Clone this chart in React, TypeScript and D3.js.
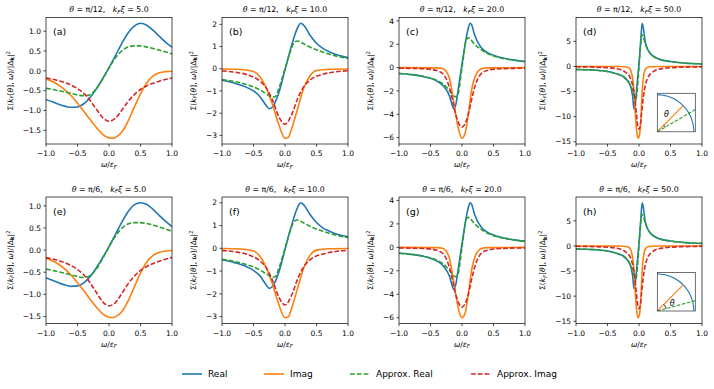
import React from "react";
import * as d3 from "d3";

type Pt = [number, number];

// ---- data: [omega/eF, Sigma/|Delta|^2] ----
// top row: theta = pi/12
const realA: Pt[] = [[-1, -0.73], [-0.9, -0.78], [-0.8, -0.84], [-0.7, -0.89], [-0.6, -0.92], [-0.5, -0.91], [-0.4, -0.83], [-0.3, -0.67], [-0.2, -0.45], [-0.1, -0.2], [0, 0.08], [0.1, 0.38], [0.2, 0.68], [0.3, 0.95], [0.4, 1.13], [0.5, 1.2], [0.6, 1.15], [0.7, 1.02], [0.8, 0.87], [0.9, 0.72], [1, 0.6]];
const imagA: Pt[] = [[-1, -0.2], [-0.9, -0.27], [-0.8, -0.36], [-0.7, -0.48], [-0.6, -0.63], [-0.5, -0.82], [-0.4, -1.02], [-0.3, -1.23], [-0.2, -1.43], [-0.1, -1.6], [0, -1.69], [0.05, -1.7], [0.1, -1.68], [0.2, -1.55], [0.3, -1.28], [0.4, -0.92], [0.5, -0.58], [0.6, -0.3], [0.7, -0.13], [0.8, -0.05], [0.9, -0.02], [1, -0.01]];
const apprRealA: Pt[] = [[-1, -0.44], [-0.8, -0.5], [-0.6, -0.57], [-0.5, -0.61], [-0.4, -0.63], [-0.3, -0.6], [-0.2, -0.45], [-0.1, -0.2], [0, 0.07], [0.1, 0.32], [0.2, 0.5], [0.3, 0.6], [0.4, 0.63], [0.5, 0.63], [0.6, 0.6], [0.8, 0.52], [1, 0.43]];
const apprImagA: Pt[] = [[-1, -0.18], [-0.8, -0.25], [-0.6, -0.36], [-0.5, -0.45], [-0.4, -0.57], [-0.3, -0.75], [-0.2, -0.97], [-0.1, -1.18], [0, -1.27], [0.1, -1.2], [0.2, -1.0], [0.3, -0.78], [0.4, -0.6], [0.5, -0.47], [0.6, -0.38], [0.8, -0.26], [1, -0.18]];

const realB: Pt[] = [[-1, -0.52], [-0.8, -0.65], [-0.6, -0.85], [-0.5, -1.0], [-0.4, -1.25], [-0.3, -1.65], [-0.25, -1.8], [-0.2, -1.72], [-0.1, -1.1], [0, -0.05], [0.1, 1.0], [0.2, 1.85], [0.25, 2.05], [0.3, 1.95], [0.4, 1.5], [0.5, 1.15], [0.6, 0.92], [0.7, 0.77], [0.8, 0.65], [0.9, 0.57], [1, 0.5]];
const imagB: Pt[] = [[-1, -0.01], [-0.7, -0.03], [-0.5, -0.12], [-0.4, -0.35], [-0.3, -0.85], [-0.2, -1.6], [-0.1, -2.5], [0, -3.13], [0.05, -3.1], [0.1, -2.75], [0.2, -1.8], [0.3, -0.85], [0.4, -0.3], [0.5, -0.08], [0.7, -0.02], [1, -0.01]];
const apprRealB: Pt[] = [[-1, -0.48], [-0.8, -0.58], [-0.6, -0.72], [-0.4, -0.95], [-0.3, -1.12], [-0.2, -1.28], [-0.15, -1.25], [-0.1, -0.9], [0, 0], [0.1, 0.9], [0.15, 1.2], [0.2, 1.25], [0.3, 1.12], [0.4, 0.97], [0.6, 0.75], [0.8, 0.58], [1, 0.47]];
const apprImagB: Pt[] = [[-1, -0.1], [-0.8, -0.15], [-0.6, -0.27], [-0.4, -0.55], [-0.3, -0.85], [-0.2, -1.4], [-0.1, -2.15], [0, -2.5], [0.1, -2.1], [0.2, -1.35], [0.3, -0.8], [0.4, -0.5], [0.6, -0.25], [0.8, -0.14], [1, -0.09]];

const realC: Pt[] = [[-1, -0.5], [-0.8, -0.6], [-0.6, -0.78], [-0.5, -0.92], [-0.4, -1.15], [-0.3, -1.55], [-0.2, -2.4], [-0.15, -3.3], [-0.13, -3.55], [-0.1, -3.2], [-0.05, -1.5], [0, 0.3], [0.05, 2.0], [0.1, 3.4], [0.13, 3.8], [0.15, 3.7], [0.2, 2.8], [0.3, 1.75], [0.4, 1.3], [0.5, 1.05], [0.6, 0.88], [0.8, 0.66], [1, 0.52]];
const imagC: Pt[] = [[-1, 0], [-0.4, -0.02], [-0.3, -0.1], [-0.2, -0.9], [-0.16, -2.0], [-0.1, -4.0], [-0.05, -5.4], [0, -6.05], [0.05, -5.6], [0.1, -4.0], [0.15, -2.0], [0.2, -0.9], [0.3, -0.12], [0.4, -0.02], [1, 0]];
const apprRealC: Pt[] = [[-1, -0.5], [-0.8, -0.6], [-0.6, -0.77], [-0.4, -1.1], [-0.3, -1.4], [-0.2, -1.95], [-0.1, -2.5], [-0.07, -2.4], [0, 0], [0.07, 2.4], [0.1, 2.55], [0.2, 2.0], [0.3, 1.55], [0.4, 1.22], [0.6, 0.85], [0.8, 0.65], [1, 0.52]];
const apprImagC: Pt[] = [[-1, -0.05], [-0.6, -0.1], [-0.4, -0.25], [-0.3, -0.55], [-0.2, -1.7], [-0.15, -2.8], [-0.1, -4.0], [-0.05, -4.8], [0, -5.1], [0.05, -4.8], [0.1, -4.0], [0.15, -2.8], [0.2, -1.7], [0.3, -0.55], [0.4, -0.25], [0.6, -0.1], [1, -0.05]];

const realD: Pt[] = [[-1, -0.6], [-0.6, -0.85], [-0.5, -1.0], [-0.4, -1.3], [-0.3, -1.7], [-0.25, -2.0], [-0.2, -2.6], [-0.15, -3.4], [-0.1, -6.0], [-0.08, -8.5], [-0.06, -7.5], [-0.03, -3.5], [0, 0.5], [0.03, 5.5], [0.05, 8.6], [0.07, 7.6], [0.1, 4.8], [0.15, 3.1], [0.2, 2.3], [0.3, 1.55], [0.5, 0.98], [0.7, 0.7], [1, 0.5]];
const imagD: Pt[] = [[-1, 0], [-0.3, -0.02], [-0.2, -0.1], [-0.15, -0.4], [-0.1, -2.5], [-0.08, -5.0], [-0.06, -9.0], [-0.04, -12.5], [-0.015, -14.3], [0.01, -13.5], [0.03, -10.5], [0.05, -5.0], [0.07, -2.2], [0.1, -0.6], [0.15, -0.1], [0.3, -0.01], [1, 0]];
const apprRealD: Pt[] = [[-1, -0.6], [-0.6, -0.85], [-0.4, -1.3], [-0.3, -1.7], [-0.2, -2.5], [-0.1, -4.8], [-0.05, -6.5], [-0.03, -5.0], [0, 0], [0.03, 5.0], [0.05, 6.3], [0.1, 4.6], [0.15, 3.1], [0.2, 2.3], [0.3, 1.55], [0.5, 0.98], [0.7, 0.7], [1, 0.5]];
const apprImagD: Pt[] = [[-1, -0.07], [-0.5, -0.25], [-0.3, -0.6], [-0.2, -1.3], [-0.15, -2.0], [-0.1, -3.8], [-0.07, -6.0], [-0.04, -9.5], [-0.02, -11.8], [0, -12.5], [0.02, -11.8], [0.04, -9.5], [0.07, -6.0], [0.1, -3.8], [0.15, -2.0], [0.2, -1.3], [0.3, -0.6], [0.5, -0.25], [1, -0.07]];

// bottom row: theta = pi/6
const realE: Pt[] = [[-1, -0.63], [-0.9, -0.68], [-0.8, -0.74], [-0.7, -0.79], [-0.6, -0.82], [-0.5, -0.81], [-0.4, -0.74], [-0.3, -0.6], [-0.2, -0.4], [-0.1, -0.17], [0, 0.08], [0.1, 0.35], [0.2, 0.62], [0.3, 0.86], [0.4, 1.02], [0.5, 1.07], [0.6, 1.03], [0.7, 0.92], [0.8, 0.78], [0.9, 0.65], [1, 0.53]];
const imagE: Pt[] = [[-1, -0.18], [-0.9, -0.24], [-0.8, -0.32], [-0.7, -0.43], [-0.6, -0.57], [-0.5, -0.74], [-0.4, -0.92], [-0.3, -1.11], [-0.2, -1.29], [-0.1, -1.44], [0, -1.52], [0.05, -1.53], [0.1, -1.51], [0.2, -1.4], [0.3, -1.16], [0.4, -0.84], [0.5, -0.52], [0.6, -0.27], [0.7, -0.12], [0.8, -0.05], [0.9, -0.02], [1, -0.01]];
const apprRealE: Pt[] = [[-1, -0.43], [-0.8, -0.49], [-0.6, -0.56], [-0.5, -0.6], [-0.4, -0.62], [-0.3, -0.58], [-0.2, -0.43], [-0.1, -0.19], [0, 0.07], [0.1, 0.31], [0.2, 0.49], [0.3, 0.59], [0.4, 0.62], [0.5, 0.62], [0.6, 0.6], [0.8, 0.52], [1, 0.43]];
const apprImagE: Pt[] = [[-1, -0.17], [-0.8, -0.24], [-0.6, -0.35], [-0.5, -0.44], [-0.4, -0.56], [-0.3, -0.74], [-0.2, -0.96], [-0.1, -1.17], [0, -1.26], [0.1, -1.19], [0.2, -0.99], [0.3, -0.77], [0.4, -0.59], [0.5, -0.46], [0.6, -0.37], [0.8, -0.25], [1, -0.17]];

const realF: Pt[] = [[-1, -0.5], [-0.8, -0.63], [-0.6, -0.82], [-0.5, -0.97], [-0.4, -1.2], [-0.3, -1.6], [-0.25, -1.76], [-0.2, -1.68], [-0.1, -1.07], [0, -0.05], [0.1, 0.97], [0.2, 1.8], [0.25, 2.0], [0.3, 1.9], [0.4, 1.47], [0.5, 1.13], [0.6, 0.9], [0.7, 0.76], [0.8, 0.64], [0.9, 0.56], [1, 0.5]];
const imagF: Pt[] = [[-1, -0.01], [-0.7, -0.03], [-0.5, -0.12], [-0.4, -0.34], [-0.3, -0.83], [-0.2, -1.57], [-0.1, -2.45], [0, -3.05], [0.05, -3.02], [0.1, -2.68], [0.2, -1.76], [0.3, -0.84], [0.4, -0.3], [0.5, -0.08], [0.7, -0.02], [1, -0.01]];
const apprRealF: Pt[] = [[-1, -0.48], [-0.8, -0.58], [-0.6, -0.72], [-0.4, -0.95], [-0.3, -1.12], [-0.2, -1.27], [-0.15, -1.24], [-0.1, -0.9], [0, 0], [0.1, 0.9], [0.15, 1.2], [0.2, 1.24], [0.3, 1.11], [0.4, 0.96], [0.6, 0.75], [0.8, 0.58], [1, 0.47]];
const apprImagF: Pt[] = [[-1, -0.1], [-0.8, -0.15], [-0.6, -0.27], [-0.4, -0.55], [-0.3, -0.85], [-0.2, -1.4], [-0.1, -2.13], [0, -2.49], [0.1, -2.09], [0.2, -1.35], [0.3, -0.8], [0.4, -0.5], [0.6, -0.25], [0.8, -0.14], [1, -0.09]];

const realG: Pt[] = [[-1, -0.5], [-0.8, -0.6], [-0.6, -0.78], [-0.5, -0.93], [-0.4, -1.16], [-0.3, -1.57], [-0.2, -2.45], [-0.15, -3.35], [-0.13, -3.6], [-0.1, -3.2], [-0.05, -1.5], [0, 0.3], [0.05, 2.0], [0.1, 3.4], [0.13, 3.8], [0.15, 3.7], [0.2, 2.8], [0.3, 1.75], [0.4, 1.3], [0.5, 1.05], [0.6, 0.88], [0.8, 0.66], [1, 0.52]];
const imagG: Pt[] = [[-1, 0], [-0.4, -0.02], [-0.3, -0.1], [-0.2, -0.9], [-0.16, -2.0], [-0.1, -4.0], [-0.05, -5.4], [0, -6.0], [0.05, -5.6], [0.1, -4.0], [0.15, -2.0], [0.2, -0.9], [0.3, -0.12], [0.4, -0.02], [1, 0]];
const apprRealG: Pt[] = [[-1, -0.5], [-0.8, -0.6], [-0.6, -0.77], [-0.4, -1.1], [-0.3, -1.4], [-0.2, -1.95], [-0.1, -2.5], [-0.07, -2.4], [0, 0], [0.07, 2.4], [0.1, 2.55], [0.2, 2.0], [0.3, 1.55], [0.4, 1.22], [0.6, 0.85], [0.8, 0.65], [1, 0.52]];
const apprImagG: Pt[] = [[-1, -0.05], [-0.6, -0.1], [-0.4, -0.25], [-0.3, -0.55], [-0.2, -1.7], [-0.15, -2.8], [-0.1, -4.0], [-0.05, -4.8], [0, -5.1], [0.05, -4.8], [0.1, -4.0], [0.15, -2.8], [0.2, -1.7], [0.3, -0.55], [0.4, -0.25], [0.6, -0.1], [1, -0.05]];

const realH: Pt[] = [[-1, -0.6], [-0.6, -0.85], [-0.5, -1.0], [-0.4, -1.3], [-0.3, -1.7], [-0.25, -2.0], [-0.2, -2.6], [-0.15, -3.4], [-0.1, -6.0], [-0.08, -8.5], [-0.06, -7.5], [-0.03, -3.5], [0, 0.5], [0.03, 5.5], [0.05, 8.6], [0.07, 7.6], [0.1, 4.8], [0.15, 3.1], [0.2, 2.3], [0.3, 1.55], [0.5, 0.98], [0.7, 0.7], [1, 0.5]];
const imagH: Pt[] = [[-1, 0], [-0.3, -0.02], [-0.2, -0.1], [-0.15, -0.4], [-0.1, -2.5], [-0.08, -5.0], [-0.06, -9.0], [-0.04, -12.5], [-0.015, -14.3], [0.01, -13.5], [0.03, -10.5], [0.05, -5.0], [0.07, -2.2], [0.1, -0.6], [0.15, -0.1], [0.3, -0.01], [1, 0]];
const apprRealH: Pt[] = [[-1, -0.6], [-0.6, -0.85], [-0.4, -1.3], [-0.3, -1.7], [-0.2, -2.5], [-0.1, -4.8], [-0.05, -6.5], [-0.03, -5.0], [0, 0], [0.03, 5.0], [0.05, 6.3], [0.1, 4.6], [0.15, 3.1], [0.2, 2.3], [0.3, 1.55], [0.5, 0.98], [0.7, 0.7], [1, 0.5]];
const apprImagH: Pt[] = [[-1, -0.07], [-0.5, -0.25], [-0.3, -0.6], [-0.2, -1.3], [-0.15, -2.0], [-0.1, -3.8], [-0.07, -6.0], [-0.04, -9.5], [-0.02, -11.8], [0, -12.5], [0.02, -11.8], [0.04, -9.5], [0.07, -6.0], [0.1, -3.8], [0.15, -2.0], [0.2, -1.3], [0.3, -0.6], [0.5, -0.25], [1, -0.07]];

const thetaLabels = ["π/12", "π/12", "π/12", "π/12", "π/6", "π/6", "π/6", "π/6"];
const kxiLabels = ["5.0", "10.0", "20.0", "50.0", "5.0", "10.0", "20.0", "50.0"];
const letters = ["(a)", "(b)", "(c)", "(d)", "(e)", "(f)", "(g)", "(h)"];
const xTicks = [-1, -0.5, 0, 0.5, 1];
const yTicksSmall = [-1.5, -1, -0.5, 0, 0.5, 1];
const yTicksB = [-3, -2, -1, 0, 1, 2];
const yTicksC = [-6, -4, -2, 0, 2, 4];
const yTicksD = [-15, -10, -5, 0, 5];
const seriesNames = ["Real", "Imag", "Approx. Real", "Approx. Imag"];
// inset angles in degrees (orange at 45, green at 45 - theta)
const insetTheta = [15, 30];

const COLORS = ["#1f77b4", "#ff7f0e", "#2ca02c", "#d62728"];
const DASH = [undefined, undefined, "4.8,2", "4.8,2"];
const FONT = "DejaVu Sans, sans-serif";
const LW = 1.6;

const panels = [
  { series: [realA, imagA, apprRealA, apprImagA], ticks: yTicksSmall, fmt: ".1f" },
  { series: [realB, imagB, apprRealB, apprImagB], ticks: yTicksB, fmt: "d" },
  { series: [realC, imagC, apprRealC, apprImagC], ticks: yTicksC, fmt: "d" },
  { series: [realD, imagD, apprRealD, apprImagD], ticks: yTicksD, fmt: "d" },
  { series: [realE, imagE, apprRealE, apprImagE], ticks: yTicksSmall, fmt: ".1f" },
  { series: [realF, imagF, apprRealF, apprImagF], ticks: yTicksB, fmt: "d" },
  { series: [realG, imagG, apprRealG, apprImagG], ticks: yTicksC, fmt: "d" },
  { series: [realH, imagH, apprRealH, apprImagH], ticks: yTicksD, fmt: "d" },
];

const COL_LEFT = [46, 222, 399, 576];
const ROW_TOP = [17.5, 197];
const W = 126;
const H = 126.5;
const TICK_FS = 7.5;

// rough DejaVu Sans widths (em) for tick labels
const charW = (s: string) =>
  s.split("").reduce((a, c) => a + (c === "−" ? 0.838 : c === "." ? 0.318 : 0.636), 0) * TICK_FS;

function Inset({ x0, y0, theta }: { x0: number; y0: number; theta: number }) {
  const w = 38,
    h = 38.5;
  const sx = d3.scaleLinear().domain([0, 1.04]).range([x0, x0 + w]);
  const sy = d3.scaleLinear().domain([0, 1.04]).range([y0 + h, y0]);
  const arcPts: Pt[] = d3.range(0, 91, 3).map((a) => [Math.cos((a * Math.PI) / 180), Math.sin((a * Math.PI) / 180)]);
  const l = d3.line<Pt>().x((d) => sx(d[0])).y((d) => sy(d[1]));
  const a1 = (45 * Math.PI) / 180;
  const a2 = ((45 - theta) * Math.PI) / 180;
  const small: Pt[] = d3.range(0, 11).map((i) => {
    const a = a2 + ((a1 - a2) * i) / 10;
    return [0.25 * Math.cos(a), 0.25 * Math.sin(a)];
  });
  const la = theta === 15 ? (63 * Math.PI) / 180 : (29 * Math.PI) / 180;
  const lr = theta === 15 ? 0.55 : 0.47;
  return (
    <g>
      <defs>
        <clipPath id={"ic" + theta}>
          <rect x={x0} y={y0} width={w} height={h} />
        </clipPath>
      </defs>
      <rect x={x0} y={y0} width={w} height={h} fill="white" />
      <g clipPath={`url(#ic${theta})`}>
        <path d={l(arcPts) || ""} fill="none" stroke={COLORS[0]} strokeWidth={1.1} />
        <path d={l([[0, 0], [Math.cos(a1), Math.sin(a1)]]) || ""} stroke={COLORS[1]} strokeWidth={1.1} />
        <path d={l([[0, 0], [1.04, 1.04 * Math.tan(a2)]]) || ""} stroke={COLORS[2]} strokeWidth={1.1} strokeDasharray="3.5,1.6" />
        <path d={l(small) || ""} fill="none" stroke="black" strokeWidth={1} />
      </g>
      <rect x={x0} y={y0} width={w} height={h} fill="none" stroke="#333" strokeWidth={0.7} />
      <text x={sx(lr * Math.cos(la))} y={sy(lr * Math.sin(la)) + 3} textAnchor="middle" fontSize={8} fontStyle="italic" fontFamily={FONT}>
        θ
      </text>
    </g>
  );
}

function Panel({ i }: { i: number }) {
  const p = panels[i];
  const col = i % 4;
  const row = Math.floor(i / 4);
  const left = COL_LEFT[col];
  const top = ROW_TOP[row];
  const x = d3.scaleLinear().domain([-1, 1]).range([left, left + W]);
  const vals = p.series.flat().map((d) => d[1]);
  const lo = d3.min(vals) as number;
  const hi = d3.max(vals) as number;
  const pad = (hi - lo) * 0.05;
  const y = d3.scaleLinear().domain([lo - pad, hi + pad]).range([top + H, top]);
  const line = d3
    .line<Pt>()
    .x((d) => x(d[0]))
    .y((d) => y(d[1]))
    .curve(d3.curveMonotoneX);
  const fy = d3.format(p.fmt);
  const fx = d3.format(".1f");
  const labels = p.ticks.map((t) => fy(t));
  const maxW = d3.max(labels, (s) => charW(s)) as number;
  const cx = left + W / 2;
  const clipId = "clip" + i;
  return (
    <g fontFamily={FONT}>
      <defs>
        <clipPath id={clipId}>
          <rect x={left} y={top} width={W} height={H} />
        </clipPath>
      </defs>
      <g clipPath={`url(#${clipId})`}>
        {p.series.map((s, k) => (
          <path
            key={k}
            d={line(s) || ""}
            fill="none"
            stroke={COLORS[k]}
            strokeWidth={LW}
            strokeDasharray={DASH[k]}
          />
        ))}
      </g>
      <rect x={left} y={top} width={W} height={H} fill="none" stroke="black" strokeWidth={0.7} />
      {xTicks.map((t) => (
        <g key={"x" + t}>
          <line x1={x(t)} x2={x(t)} y1={top + H} y2={top + H + 2.6} stroke="black" strokeWidth={0.7} />
          <text x={x(t)} y={top + H + 12} textAnchor="middle" fontSize={TICK_FS}>
            {fx(t)}
          </text>
        </g>
      ))}
      {p.ticks.map((t, k) => (
        <g key={"y" + t}>
          <line x1={left - 2.6} x2={left} y1={y(t)} y2={y(t)} stroke="black" strokeWidth={0.7} />
          <text x={left - 5} y={y(t) + 2.7} textAnchor="end" fontSize={TICK_FS}>
            {labels[k]}
          </text>
        </g>
      ))}
      <text x={cx} y={top + H + 23} textAnchor="middle" fontSize={7.5}>
        <tspan fontStyle="italic">ω</tspan>
        <tspan>/</tspan>
        <tspan fontStyle="italic">ε</tspan>
        <tspan fontStyle="italic" fontSize={5.5} dy={1.5}>F</tspan>
      </text>
      <text
        transform={`translate(${left - maxW - 15},${top + H / 2}) rotate(-90)`}
        textAnchor="middle"
        fontSize={7.5}
      >
        <tspan>Σ(</tspan>
        <tspan fontStyle="italic">k</tspan>
        <tspan fontStyle="italic" fontSize={5.5} dy={1.5}>F</tspan>
        <tspan dy={-1.5}>[</tspan>
        <tspan fontStyle="italic">θ</tspan>
        <tspan>], </tspan>
        <tspan fontStyle="italic">ω</tspan>
        <tspan>)/|Δ</tspan>
        <tspan fontWeight="bold" fontSize={5.5} dy={1.5}>k</tspan>
        <tspan dy={-1.5}>|</tspan>
        <tspan fontSize={5.5} dy={-3}>2</tspan>
      </text>
      <text x={cx} y={top - 5.5} textAnchor="middle" fontSize={7.8} style={{ whiteSpace: "pre" }}>
        <tspan fontStyle="italic">θ</tspan>
        <tspan>{" = " + thetaLabels[i] + ",   "}</tspan>
        <tspan fontStyle="italic">k</tspan>
        <tspan fontStyle="italic" fontSize={5.6} dy={1.5}>F</tspan>
        <tspan fontStyle="italic" dy={-1.5}>ξ</tspan>
        <tspan>{" = " + kxiLabels[i]}</tspan>
      </text>
      <text x={left + 7} y={top + 17.5} fontSize={9.5}>
        {letters[i]}
      </text>
      {col === 3 && <Inset x0={657.3} y0={row === 0 ? 93.3 : 272.5} theta={insetTheta[row]} />}
    </g>
  );
}

const legendX = [182, 264, 350, 471];

export default function App() {
  return (
    <svg
      width={714}
      height={389}
      style={{ position: "absolute", left: 0, top: 0, background: "white" }}
    >
      <rect width={714} height={389} fill="white" />
      {panels.map((_, i) => (
        <Panel key={i} i={i} />
      ))}
      <g fontFamily={FONT}>
        {seriesNames.map((n, k) => (
          <g key={n}>
            <line
              x1={legendX[k]}
              x2={legendX[k] + 20}
              y1={374}
              y2={374}
              stroke={COLORS[k]}
              strokeWidth={LW}
              strokeDasharray={DASH[k]}
            />
            <text x={legendX[k] + 26} y={377.2} fontSize={9}>
              {n}
            </text>
          </g>
        ))}
      </g>
    </svg>
  );
}
